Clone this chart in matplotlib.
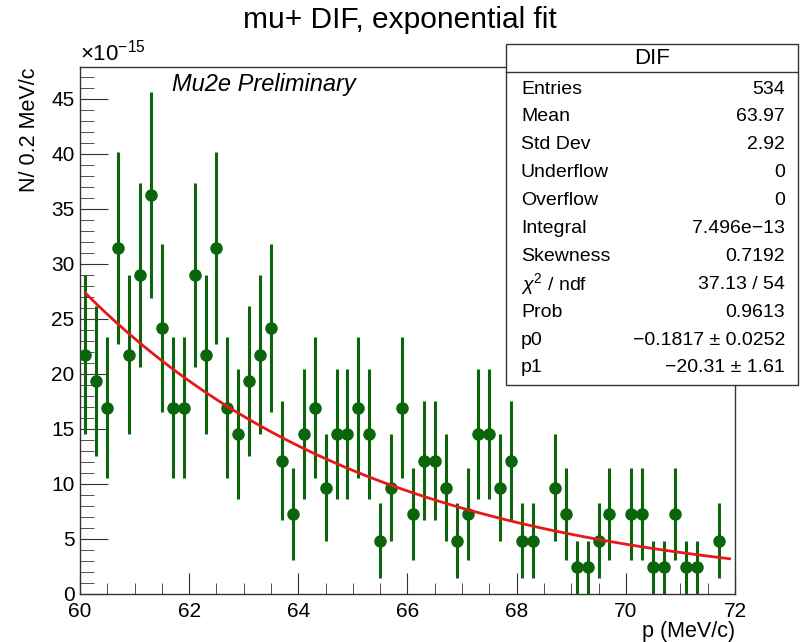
import numpy as np
import matplotlib.pyplot as plt
from matplotlib.patches import Rectangle
from matplotlib.ticker import MultipleLocator

plt.rcParams['font.family'] = ['Liberation Sans', 'DejaVu Sans']
plt.rcParams['mathtext.fontset'] = 'custom'
plt.rcParams['mathtext.rm'] = 'Liberation Sans'
plt.rcParams['mathtext.it'] = 'Liberation Sans:italic'

# histogram binning (60 bins of 0.2 MeV/c)
p_lo, p_hi, n_bins = 60.0, 72.0, 60

# bin contents and errors, units of 1e-15 (0 = empty bin, not drawn)
contents = [21.76, 19.34, 16.93, 31.43, 21.76, 29.02, 36.27, 24.18, 16.93, 16.93,
            29.02, 21.76, 31.43, 16.93, 14.51, 19.34, 21.76, 24.18, 12.09, 7.25,
            14.51, 16.93, 9.67, 14.51, 14.51, 16.93, 14.51, 4.84, 9.67, 16.93,
            7.25, 12.09, 12.09, 9.67, 4.84, 7.25, 14.51, 14.51, 9.67, 12.09,
            4.84, 4.84, 0.0, 9.67, 7.25, 2.42, 2.42, 4.84, 7.25, 0.0,
            7.25, 7.25, 2.42, 2.42, 7.25, 2.42, 2.42, 0.0, 4.84, 0.0]
errors = [7.25, 6.84, 6.40, 8.72, 7.25, 8.38, 9.37, 7.65, 6.40, 6.40,
          8.38, 7.25, 8.72, 6.40, 5.92, 6.84, 7.25, 7.65, 5.41, 4.19,
          5.92, 6.40, 4.84, 5.92, 5.92, 6.40, 5.92, 3.42, 4.84, 6.40,
          4.19, 5.41, 5.41, 4.84, 3.42, 4.19, 5.92, 5.92, 4.84, 5.41,
          3.42, 3.42, 0.0, 4.84, 4.19, 2.42, 2.42, 3.42, 4.19, 0.0,
          4.19, 4.19, 2.42, 2.42, 4.19, 2.42, 2.42, 0.0, 3.42, 0.0]

# fit result, f = exp(p1 + p0*p), drawn over the bin centres
p0 = -0.1817
p1 = -20.31

stat_names = ['Entries', 'Mean', 'Std Dev', 'Underflow', 'Overflow', 'Integral',
              'Skewness', r'$\chi^{2}$ / ndf', 'Prob', 'p0', 'p1']
stat_vals = ['534', '63.97', '2.92', '0', '0', '7.496e\u221213', '0.7192',
             '37.13 / 54', '0.9613', '\u22120.1817 \u00b1 0.0252', '\u221220.31 \u00b1 1.61']

green = '#0b660b'
red = '#e81818'

edges = np.linspace(p_lo, p_hi, n_bins + 1)
centers = 0.5 * (edges[:-1] + edges[1:])
y = np.array(contents)
yerr = np.array(errors)
keep = y > 0

fig = plt.figure(figsize=(8, 6.42), dpi=100)
ax = fig.add_axes([0.1, 0.0748, 0.81875, 0.8208])

ax.errorbar(centers[keep], y[keep], yerr=yerr[keep], fmt='o', color=green,
            ms=8, elinewidth=2.2, capsize=0, zorder=3)

xf = np.linspace(centers[0], centers[-1], 100)
ax.plot(xf, np.exp(p1 + p0 * xf) * 1e15, color=red, lw=2, zorder=4)

ax.set_xlim(p_lo, p_hi)
ax.set_ylim(0, 47.9)
ax.xaxis.set_major_locator(MultipleLocator(2))
ax.xaxis.set_minor_locator(MultipleLocator(0.5))
ax.yaxis.set_major_locator(MultipleLocator(5))
ax.yaxis.set_minor_locator(MultipleLocator(1))
ax.tick_params(axis='both', which='both', direction='in', top=False, right=False,
               labelsize=15, color='#333333')
ax.tick_params(axis='x', which='major', length=15, pad=6)
ax.tick_params(axis='x', which='minor', length=8)
ax.tick_params(axis='y', which='major', length=20, pad=4)
ax.tick_params(axis='y', which='minor', length=10)
for s in ax.spines.values():
    s.set_color('#333333')
    s.set_linewidth(1)

ax.set_xlabel('p (MeV/c)', fontsize=15.5, loc='right', labelpad=0)
ax.set_ylabel('N/ 0.2 MeV/c', fontsize=15.5, loc='top', labelpad=8)
ax.text(0.0, 1.003, r'$\times10^{-15}$', transform=ax.transAxes, fontsize=16,
        ha='left', va='bottom')
ax.text(172 / 800, 1 - 85 / 642, 'Mu2e Preliminary', transform=fig.transFigure,
        fontsize=17, style='italic', ha='left', va='center')

fig.text(0.5, 1 - 20 / 642, 'mu+ DIF, exponential fit', fontsize=21.5,
         ha='center', va='center')

# stats box
bx0, bx1, by0, by1 = 506, 798, 44, 385
fig.add_artist(Rectangle((bx0 / 800, 1 - by1 / 642), (bx1 - bx0) / 800, (by1 - by0) / 642,
                         transform=fig.transFigure, facecolor='white',
                         edgecolor='#333333', lw=1, zorder=5))
fig.add_artist(plt.Line2D([bx0 / 800, bx1 / 800], [1 - 72 / 642] * 2,
                          transform=fig.transFigure, color='#333333', lw=1, zorder=6))
fig.text((bx0 + bx1) / 2 / 800, 1 - 59 / 642, 'DIF', fontsize=16, ha='center',
         va='center', zorder=7)
for i, (nm, v) in enumerate(zip(stat_names, stat_vals)):
    yy = 1 - (89 + i * 27.9) / 642
    fig.text(521 / 800, yy, nm, fontsize=14, ha='left', va='center', zorder=7)
    fig.text(785 / 800, yy, v, fontsize=14, ha='right', va='center', zorder=7)

fig.savefig('out.png', dpi=100)
